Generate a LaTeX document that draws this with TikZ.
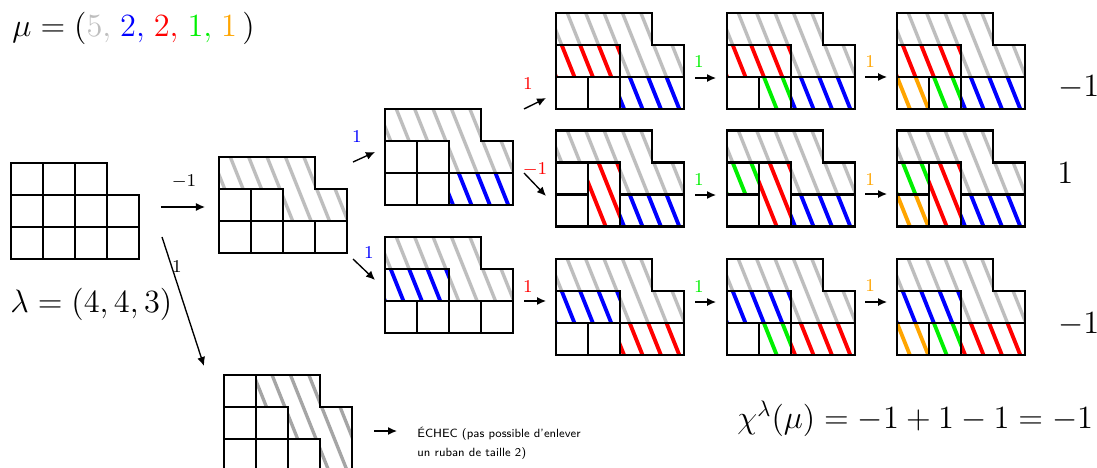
\documentclass[tikz,border=0pt]{standalone}
\usepackage{tikz}
\usetikzlibrary{arrows.meta}
\usepackage{xcolor}
\usepackage{amsmath}
\definecolor{ribbongray}{RGB}{190,190,190}
\definecolor{failgray}{RGB}{165,165,165}
\definecolor{ribbonblue}{RGB}{0,0,255}
\definecolor{ribbonred}{RGB}{255,0,0}
\definecolor{ribbongreen}{RGB}{0,240,0}
\definecolor{ribbonorange}{RGB}{255,165,0}
\tikzstyle{cellline} = [line width=0.9pt, draw=black]
\tikzstyle{hatchline} = [line width=1.7pt]
\tikzstyle{arrow} = [semithick,-{Latex[length=4pt,width=3.6pt]}]
\tikzstyle{steplabel} = [font=\fontsize{7.8}{9}\selectfont, inner sep=0pt]
\tikzstyle{bigmath} = [font=\fontsize{13.8}{16}\selectfont, inner sep=0pt, anchor=base west]

% hatched ribbon: colour, closed path
\newcommand{\hatchit}[2]{%
  \begin{scope}
    \clip #2;
    \foreach \k in {0,...,10}
      \draw[hatchline,#1] ({(\k-0.3)*0.575+0.1},-0.25) -- ++(-1.4,3.5);
  \end{scope}
  \draw[cellline] #2;}
\newcommand{\cellat}[2]{\draw[cellline] (#1,#2) rectangle ++(1,1);}
\newcommand{\grayrib}{\hatchit{ribbongray, line width=1.5pt}{(0,2) -- (0,3) -- (3,3) -- (3,2) -- (4,2) -- (4,1) -- (2,1) -- (2,2) -- cycle}}
\newcommand{\diagoutline}{\draw[cellline] (0,0) -- (4,0) -- (4,2) -- (3,2) -- (3,3) -- (0,3) -- cycle;}

\begin{document}
\begin{tikzpicture}[x=0.5cm, y=0.5cm]
\useasboundingbox (0,0) rectangle (34.281,-14.625);

% Partitions
\node[bigmath] (mu) at (0.375,-1.156) {$\mu = (\textcolor{ribbongray}{5,}\;\textcolor{ribbonblue}{2,}\;\textcolor{ribbonred}{2,}\;\textcolor{ribbongreen}{1,}\;\textcolor{ribbonorange}{1}\,)$};
\node[bigmath] (lambda) at (0.31,-9.781) {$\lambda = (4,4,3)$};

% lambda
\begin{scope}[shift={(0.344,-8.094)}]
  \foreach \x in {0,...,3} {\cellat{\x}{0} \cellat{\x}{1}}
  \foreach \x in {0,...,2} {\cellat{\x}{2}}
\end{scope}

% first ribbon (size 5)
\begin{scope}[shift={(6.844,-7.906)}]
  \grayrib
  \cellat{0}{1} \cellat{1}{1}
  \foreach \x in {0,...,3} {\cellat{\x}{0}}
  \diagoutline
\end{scope}

% other ribbon (size 5), failure
\begin{scope}[shift={(7.0,-14.719)}]
  \hatchit{failgray, line width=1.5pt}{(1,3) -- (3,3) -- (3,2) -- (4,2) -- (4,0) -- (3,0) -- (3,1) -- (2,1) -- (2,2) -- (1,2) -- cycle}
  \cellat{0}{0} \cellat{1}{0} \cellat{2}{0}
  \cellat{0}{1} \cellat{1}{1} \cellat{0}{2}
  \diagoutline
\end{scope}

% blue ribbons
\begin{scope}[shift={(12.031,-6.406)}]
  \grayrib
  \hatchit{ribbonblue}{(2,0) rectangle (4,1)}
  \cellat{0}{0} \cellat{1}{0} \cellat{0}{1} \cellat{1}{1}
  \diagoutline
\end{scope}
\begin{scope}[shift={(12.031,-10.406)}]
  \grayrib
  \hatchit{ribbonblue}{(0,1) rectangle (2,2)}
  \foreach \x in {0,...,3} {\cellat{\x}{0}}
  \diagoutline
\end{scope}

% red ribbons
\begin{scope}[shift={(17.375,-3.406)}]
  \grayrib
  \hatchit{ribbonblue}{(2,0) rectangle (4,1)}
  \hatchit{ribbonred}{(0,1) rectangle (2,2)}
  \cellat{0}{0} \cellat{1}{0}
  \diagoutline
\end{scope}
\begin{scope}[shift={(17.375,-7.078)}]
  \grayrib
  \hatchit{ribbonblue}{(2,0) rectangle (4,1)}
  \hatchit{ribbonred}{(1,0) rectangle (2,2)}
  \cellat{0}{0} \cellat{0}{1}
  \diagoutline
\end{scope}
\begin{scope}[shift={(17.375,-11.094)}]
  \grayrib
  \hatchit{ribbonblue}{(0,1) rectangle (2,2)}
  \hatchit{ribbonred}{(2,0) rectangle (4,1)}
  \cellat{0}{0} \cellat{1}{0}
  \diagoutline
\end{scope}

% green ribbons
\begin{scope}[shift={(22.719,-3.406)}]
  \grayrib
  \hatchit{ribbonblue}{(2,0) rectangle (4,1)}
  \hatchit{ribbonred}{(0,1) rectangle (2,2)}
  \hatchit{ribbongreen}{(1,0) rectangle (2,1)}
  \cellat{0}{0}
  \diagoutline
\end{scope}
\begin{scope}[shift={(22.719,-7.078)}]
  \grayrib
  \hatchit{ribbonblue}{(2,0) rectangle (4,1)}
  \hatchit{ribbonred}{(1,0) rectangle (2,2)}
  \hatchit{ribbongreen}{(0,1) rectangle (1,2)}
  \cellat{0}{0}
  \diagoutline
\end{scope}
\begin{scope}[shift={(22.719,-11.094)}]
  \grayrib
  \hatchit{ribbonblue}{(0,1) rectangle (2,2)}
  \hatchit{ribbonred}{(2,0) rectangle (4,1)}
  \hatchit{ribbongreen}{(1,0) rectangle (2,1)}
  \cellat{0}{0}
  \diagoutline
\end{scope}

% orange ribbons
\begin{scope}[shift={(28.031,-3.406)}]
  \grayrib
  \hatchit{ribbonblue}{(2,0) rectangle (4,1)}
  \hatchit{ribbonred}{(0,1) rectangle (2,2)}
  \hatchit{ribbongreen}{(1,0) rectangle (2,1)}
  \hatchit{ribbonorange}{(0,0) rectangle (1,1)}
  \diagoutline
\end{scope}
\begin{scope}[shift={(28.031,-7.078)}]
  \grayrib
  \hatchit{ribbonblue}{(2,0) rectangle (4,1)}
  \hatchit{ribbonred}{(1,0) rectangle (2,2)}
  \hatchit{ribbongreen}{(0,1) rectangle (1,2)}
  \hatchit{ribbonorange}{(0,0) rectangle (1,1)}
  \diagoutline
\end{scope}
\begin{scope}[shift={(28.031,-11.094)}]
  \grayrib
  \hatchit{ribbonblue}{(0,1) rectangle (2,2)}
  \hatchit{ribbonred}{(2,0) rectangle (4,1)}
  \hatchit{ribbongreen}{(1,0) rectangle (2,1)}
  \hatchit{ribbonorange}{(0,0) rectangle (1,1)}
  \diagoutline
\end{scope}

% Arrow ends
\coordinate (s01) at (5.031,-6.469);   \coordinate (e01) at (6.406,-6.469);
\coordinate (s0f) at (5.063,-7.406);   \coordinate (e0f) at (6.375,-11.438);
\coordinate (s1a) at (11.031,-5.063);  \coordinate (e1a) at (11.719,-4.75);
\coordinate (s1b) at (11.031,-8.094);  \coordinate (e1b) at (11.719,-8.75);
\coordinate (s2a) at (16.375,-3.406);  \coordinate (e2a) at (17.063,-3.063);
\coordinate (s2b) at (16.375,-5.406);  \coordinate (e2b) at (17.063,-6.125);
\coordinate (s2c) at (16.375,-9.406);  \coordinate (e2c) at (17.063,-9.406);
\coordinate (s3a) at (21.719,-2.438);  \coordinate (e3a) at (22.375,-2.438);
\coordinate (s3b) at (21.719,-6.094);  \coordinate (e3b) at (22.375,-6.094);
\coordinate (s3c) at (21.719,-9.438);  \coordinate (e3c) at (22.375,-9.438);
\coordinate (s4a) at (27.031,-2.406);  \coordinate (e4a) at (27.719,-2.406);
\coordinate (s4b) at (27.031,-6.063);  \coordinate (e4b) at (27.719,-6.063);
\coordinate (s4c) at (27.031,-9.438);  \coordinate (e4c) at (27.719,-9.438);
\coordinate (sfail) at (11.688,-13.469); \coordinate (efail) at (12.406,-13.469);

% Arrows
\draw[arrow] (s01) -- (e01);
\draw[arrow] (s0f) -- (e0f);
\draw[arrow] (s1a) -- (e1a);
\draw[arrow] (s1b) -- (e1b);
\draw[arrow] (s2a) -- (e2a);
\draw[arrow] (s2b) -- (e2b);
\draw[arrow] (s2c) -- (e2c);
\draw[arrow] (s3a) -- (e3a);
\draw[arrow] (s3b) -- (e3b);
\draw[arrow] (s3c) -- (e3c);
\draw[arrow] (s4a) -- (e4a);
\draw[arrow] (s4b) -- (e4b);
\draw[arrow] (s4c) -- (e4c);
\draw[arrow] (sfail) -- (efail);

% Signs of the steps
\node[steplabel] (l01) at (5.75,-5.688) {$-1$};
\node[steplabel] (l0f) at (5.531,-8.344) {$1$};
\node[steplabel, text=ribbonblue] (l1a) at (11.156,-4.281) {$1$};
\node[steplabel, text=ribbonblue] (l1b) at (11.531,-7.906) {$1$};
\node[steplabel, text=ribbonred] (l2a) at (16.5,-2.625) {$1$};
\node[steplabel, text=ribbonred] (l2b) at (16.719,-5.313) {$-1$};
\node[steplabel, text=ribbonred] (l2c) at (16.5,-8.969) {$1$};
\node[steplabel, text=ribbongreen] (l3a) at (21.84,-1.938) {$1$};
\node[steplabel, text=ribbongreen] (l3b) at (21.84,-5.625) {$1$};
\node[steplabel, text=ribbongreen] (l3c) at (21.84,-8.969) {$1$};
\node[steplabel, text=ribbonorange] (l4a) at (27.19,-1.938) {$1$};
\node[steplabel, text=ribbonorange] (l4b) at (27.19,-5.625) {$1$};
\node[steplabel, text=ribbonorange] (l4c) at (27.19,-8.94) {$1$};

% Results
\node[bigmath] (signa) at (33.05,-3.03) {$-1$};
\node[bigmath] (signb) at (33.03,-5.75) {$1$};
\node[bigmath] (signc) at (33.05,-10.41) {$-1$};
\node[bigmath] (chi) at (23.03,-13.375) {$\chi^{\lambda}(\mu) = -1 + 1 - 1 = -1$};
\node[font=\fontsize{5.3}{8.4}\selectfont\sffamily, align=left, anchor=west, inner sep=0pt] (echec) at (13.03,-13.86) {ÉCHEC (pas possible d'enlever\\un ruban de taille 2)};

\end{tikzpicture}
\end{document}
